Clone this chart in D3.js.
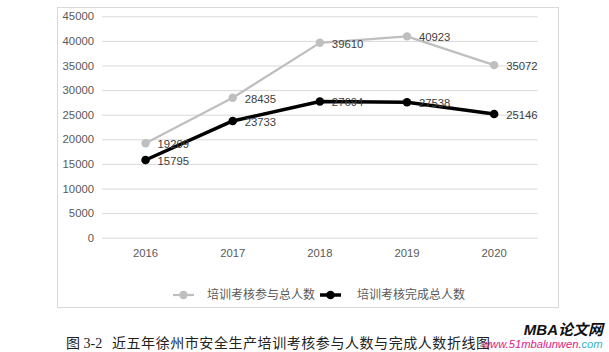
<!DOCTYPE html>
<html>
<head>
<meta charset="utf-8">
<script src="https://cdn.jsdelivr.net/npm/d3@7"></script>
<style>
  body { margin: 0; background: #fff; }
  svg { display: block; font-family: "Liberation Sans", Arial, sans-serif; }
</style>
</head>
<body>
<svg id="mainFrame"></svg>
<script>
const years = ['2016', '2017', '2018', '2019', '2020'];
const participants = [19209, 28435, 39610, 40923, 35072];   // 培训考核参与总人数
const completed = [15795, 23733, 27694, 27538, 25146];      // 培训考核完成总人数
const yTicks = [0, 5000, 10000, 15000, 20000, 25000, 30000, 35000, 40000, 45000];
const seriesNames = ['培训考核参与总人数', '培训考核完成总人数'];

const width = 609, height = 352;
const svg = d3.select('#mainFrame')
    .attr('width', width)
    .attr('height', height);

svg.append('rect')
    .attr('width', width).attr('height', height)
    .attr('fill', '#fff');

// chart frame
svg.append('rect')
    .attr('x', 57.5).attr('y', 7.5)
    .attr('width', 501).attr('height', 300)
    .attr('fill', '#fff')
    .attr('stroke', '#d9d9d9');

const xScale = d3.scaleBand()
    .domain(years)
    .range([102, 537.7]);

const yScale = d3.scaleLinear()
    .domain([0, 45000])
    .range([237.7, 16.3]);

// gridlines + y labels
const yAxis = d3.axisLeft(yScale)
    .tickValues(yTicks)
    .tickSize(-(537.7 - 102))
    .tickPadding(8)
    .tickFormat(d3.format('d'));

const yAxisGroup = svg.append('g')
    .attr('transform', 'translate(102,0)')
    .call(yAxis);
yAxisGroup.select('.domain').remove();
yAxisGroup.selectAll('.tick line')
    .attr('stroke', '#d9d9d9');
yAxisGroup.selectAll('.tick text')
    .attr('fill', '#595959')
    .attr('font-size', 11.3)
    .attr('font-family', '"Liberation Sans", Arial, sans-serif');

// x labels
const xAxisGroup = svg.append('g')
    .attr('transform', `translate(0,${yScale(0)})`)
    .call(d3.axisBottom(xScale).tickSize(0).tickPadding(11));
xAxisGroup.select('.domain').remove();
xAxisGroup.selectAll('.tick text')
    .attr('fill', '#595959')
    .attr('font-size', 11.3)
    .attr('font-family', '"Liberation Sans", Arial, sans-serif');

const cx = (d, i) => xScale(years[i]) + xScale.bandwidth() / 2;

const series = [
    { name: seriesNames[0], values: participants, color: '#bfbfbf', width: 2.2, r: 4.2, label: '#404040' },
    { name: seriesNames[1], values: completed, color: '#000', width: 3.5, r: 4.3, label: '#404040' }
];

const line = d3.line()
    .x(cx)
    .y(d => yScale(d));

series.forEach(s => {
    const g = svg.append('g');
    g.append('path')
        .datum(s.values)
        .attr('d', line)
        .attr('fill', 'none')
        .attr('stroke', s.color)
        .attr('stroke-width', s.width)
        .attr('stroke-linejoin', 'round');
    g.selectAll('circle').data(s.values)
        .enter().append('circle')
            .attr('cx', cx)
            .attr('cy', d => yScale(d))
            .attr('r', s.r)
            .attr('fill', s.color);
});

// data labels drawn on top of both lines
series.forEach(s => {
    svg.append('g').selectAll('text').data(s.values)
        .enter().append('text')
            .attr('x', (d, i) => cx(d, i) + 12)
            .attr('y', d => yScale(d) + 1)
            .attr('dy', '0.35em')
            .attr('font-size', 11.3)
            .attr('fill', s.label)
            .text(d => d);
});

// legend
const legend = svg.append('g').attr('transform', 'translate(0,295)');
const legendItems = [
    { x: 173, textX: 207, s: series[0] },
    { x: 320, textX: 357, s: series[1] }
];
legendItems.forEach(item => {
    legend.append('line')
        .attr('x1', item.x).attr('x2', item.x + 21)
        .attr('stroke', item.s.color)
        .attr('stroke-width', item.s.width);
    legend.append('circle')
        .attr('cx', item.x + 10.5)
        .attr('r', item.s.r)
        .attr('fill', item.s.color);
    legend.append('text')
        .attr('x', item.textX)
        .attr('dy', '0.35em')
        .attr('font-size', 12)
        .attr('fill', '#595959')
        .attr('font-family', '"Noto Sans CJK SC", sans-serif')
        .text(item.s.name);
});

// caption
svg.append('text')
    .attr('x', 66).attr('y', 348)
    .attr('font-size', 14)
    .attr('fill', '#222')
    .attr('font-family', '"Liberation Serif", "Noto Sans CJK SC", serif')
    .text('图 3-2');
svg.append('text')
    .attr('x', 112).attr('y', 348)
    .attr('font-size', 14)
    .attr('fill', '#222')
    .attr('font-family', '"Noto Sans CJK SC", sans-serif')
    .attr('textLength', 378)
    .attr('lengthAdjust', 'spacing')
    .text('近五年徐州市安全生产培训考核参与人数与完成人数折线图');

// watermark
svg.append('text')
    .attr('x', 603).attr('y', 335)
    .attr('text-anchor', 'end')
    .attr('font-size', 15)
    .attr('font-weight', 'bold')
    .attr('font-style', 'italic')
    .attr('fill', '#111')
    .attr('font-family', '"Liberation Sans", "Noto Sans CJK SC", sans-serif')
    .text('MBA论文网');
const wm = svg.append('text')
    .attr('x', 482).attr('y', 348)
    .attr('font-size', 11.2)
    .attr('font-style', 'italic')
    .attr('font-family', '"Liberation Sans", Arial, sans-serif');
wm.append('tspan').attr('fill', '#e0217f').text('www.51mbalunwen.');
wm.append('tspan').attr('fill', '#35b3c8').text('com');
</script>
</body>
</html>
